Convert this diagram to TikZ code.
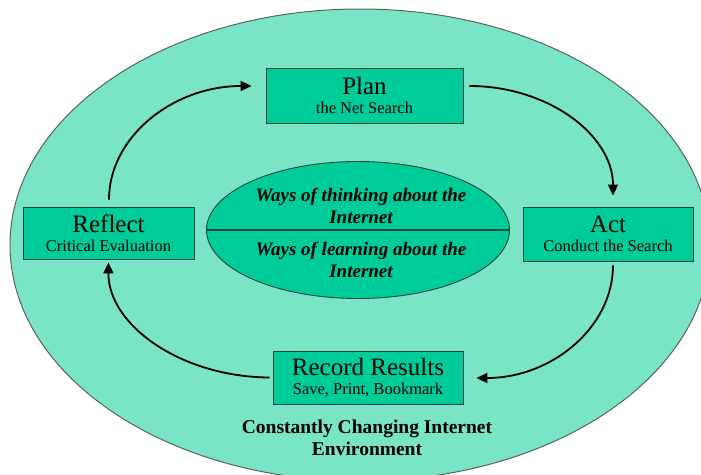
\documentclass[tikz,border=0pt]{standalone}
\usepackage{fontspec}
\setmainfont{Liberation Serif}
\usetikzlibrary{arrows.meta,calc,shapes.geometric}
\definecolor{bgteal}{RGB}{122,228,198}
\definecolor{boxteal}{RGB}{0,204,153}
\definecolor{boxline}{RGB}{30,70,55}
\definecolor{rimgray}{RGB}{90,100,95}
\tikzset{
  stepbox/.style={draw=boxline, line width=0.9pt, fill=boxteal, align=center, inner sep=0pt},
  flow/.style={line width=1.8pt, -{Triangle[length=11pt,width=10pt]}},
  coretext/.style={font=\fontsize{19}{22}\selectfont\bfseries\itshape, align=center},
}
\newcommand{\boxtext}[2]{{\fontsize{25}{25}\selectfont #1}\\[7pt]{\fontsize{16.5}{17}\selectfont #2}}
\begin{document}
\begin{tikzpicture}[x=1pt,y=-1pt]
\useasboundingbox (0,0) rectangle (701,474);
% outer environment ellipse
\fill[bgteal] (360,245) ellipse [x radius=350, y radius=236];
\draw[rimgray, line width=1pt] (360,245) ellipse [x radius=350, y radius=236];
% inner ellipse
\node[ellipse, draw=boxline, line width=0.9pt, fill=boxteal, minimum width=303pt, minimum height=137pt, inner sep=0pt] (core) at (358,230) {};
\draw[boxline, line width=1.2pt] (core.west) -- (core.east);
\node[coretext] (think) at (361,206) {Ways of thinking about the\\Internet};
\node[coretext] (learn) at (361,260) {Ways of learning about the\\Internet};
% boxes
\node[stepbox, minimum width=197pt, minimum height=55pt] (plan) at (364.5,95.5) {\boxtext{Plan}{the Net Search}};
\node[stepbox, minimum width=171pt, minimum height=52pt] (reflect) at (108.5,233) {\boxtext{Reflect}{Critical Evaluation}};
\node[stepbox, minimum width=170pt, minimum height=54pt] (act) at (608,234) {\boxtext{Act}{Conduct the Search}};
\node[stepbox, minimum width=190pt, minimum height=53pt] (record) at (368,377.5) {\boxtext{Record Results}{Save, Print, Bookmark}};
% environment label
\node[font=\fontsize{19.5}{22}\selectfont\bfseries, align=center] (env) at (367,438) {Constantly Changing Internet\\Environment};
% cycle arrows
\draw[flow] ($(reflect.north)+(0.5,-7)$) .. controls (109,137) and (173,86) .. ($(plan.west)+(-14,-9.5)$);
\draw[flow] ($(plan.east)+(6,-9.5)$) .. controls (548,86) and (613,135) .. ($(act.north)+(5,-11)$);
\draw[flow] ($(act.south)+(5,4)$) .. controls (613,327) and (552,378) .. ($(record.east)+(13,0.5)$);
\draw[flow] ($(record.west)+(-3,0)$) .. controls (181,377) and (108,325) .. ($(reflect.south)+(0,3)$);
\end{tikzpicture}
\end{document}
